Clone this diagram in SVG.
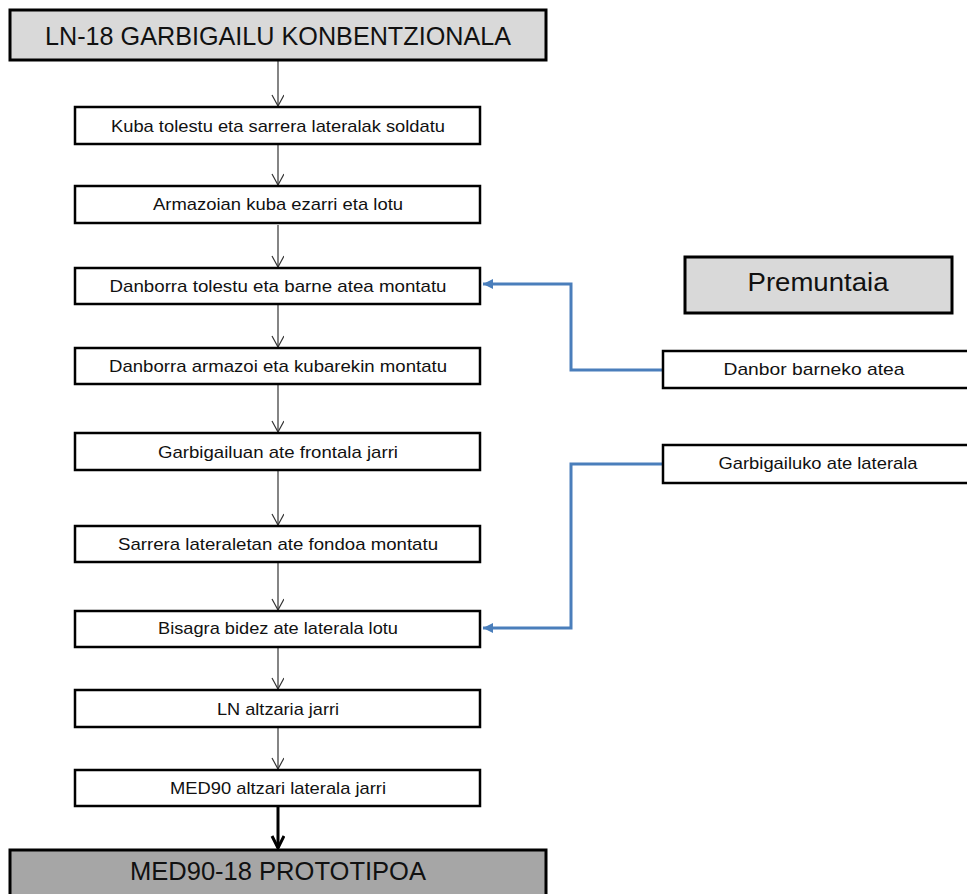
<svg xmlns="http://www.w3.org/2000/svg" width="967" height="894" viewBox="0 0 967 894">
<style>
.box{fill:#fff;stroke:#000;stroke-width:2.5}
.title{fill:#d9d9d9;stroke:#000;stroke-width:3}
.final{fill:#a6a6a6;stroke:#000;stroke-width:3}
.t{font-family:"Liberation Sans",Arial,sans-serif;font-size:17px;fill:#111;text-anchor:middle}
.big{font-family:"Liberation Sans",Arial,sans-serif;font-size:25px;fill:#111;text-anchor:middle}
.ln{stroke:#333;stroke-width:1.2;fill:none}
.blue{stroke:#4a7ebb;stroke-width:3;fill:none}
</style>
<defs>
<marker id="v" markerWidth="14" markerHeight="14" refX="12" refY="6" orient="auto" markerUnits="userSpaceOnUse">
<path d="M1,0 L12,6 L1,12" fill="none" stroke="#333" stroke-width="1.2"/>
</marker>
<marker id="vb" markerWidth="16" markerHeight="16" refX="13" refY="7" orient="auto" markerUnits="userSpaceOnUse">
<path d="M1,1 L13,7 L1,13" fill="none" stroke="#000" stroke-width="3"/>
</marker>
<marker id="bl" markerWidth="12" markerHeight="12" refX="10" refY="5" orient="auto" markerUnits="userSpaceOnUse">
<path d="M0,0 L10,5 L0,10 Z" fill="#4a7ebb"/>
</marker>
</defs>
<g id="connectors">
<line class="ln" x1="278" y1="61" x2="278" y2="106" marker-end="url(#v)"/>
<line class="ln" x1="278" y1="145" x2="278" y2="185" marker-end="url(#v)"/>
<line class="ln" x1="278" y1="225" x2="278" y2="267" marker-end="url(#v)"/>
<line class="ln" x1="278" y1="305" x2="278" y2="347" marker-end="url(#v)"/>
<line class="ln" x1="278" y1="385" x2="278" y2="432" marker-end="url(#v)"/>
<line class="ln" x1="278" y1="471" x2="278" y2="525" marker-end="url(#v)"/>
<line class="ln" x1="278" y1="563" x2="278" y2="610" marker-end="url(#v)"/>
<line class="ln" x1="278" y1="648" x2="278" y2="689" marker-end="url(#v)"/>
<line class="ln" x1="278" y1="728" x2="278" y2="769" marker-end="url(#v)"/>
<line x1="278" y1="807" x2="278" y2="848" stroke="#000" stroke-width="3" marker-end="url(#vb)"/>
<polyline class="blue" points="663,370 571,370 571,284 483,284" marker-end="url(#bl)"/>
<polyline class="blue" points="663,464 571,464 571,628 483,628" marker-end="url(#bl)"/>
</g>
<g id="n-top"><rect class="title" x="10" y="10" width="536" height="50"/><text class="big" x="278" y="45" textLength="466" lengthAdjust="spacingAndGlyphs">LN-18 GARBIGAILU KONBENTZIONALA</text></g>
<g id="n1"><rect class="box" x="75" y="107" width="405" height="37"/><text class="t" x="278" y="132" textLength="334" lengthAdjust="spacingAndGlyphs">Kuba tolestu eta sarrera lateralak soldatu</text></g>
<g id="n2"><rect class="box" x="75" y="186" width="405" height="37"/><text class="t" x="278" y="210" textLength="250" lengthAdjust="spacingAndGlyphs">Armazoian kuba ezarri eta lotu</text></g>
<g id="n3"><rect class="box" x="75" y="268" width="405" height="36"/><text class="t" x="278" y="292" textLength="337" lengthAdjust="spacingAndGlyphs">Danborra tolestu eta barne atea montatu</text></g>
<g id="n4"><rect class="box" x="75" y="348" width="405" height="36"/><text class="t" x="278" y="372" textLength="338" lengthAdjust="spacingAndGlyphs">Danborra armazoi eta kubarekin montatu</text></g>
<g id="n5"><rect class="box" x="75" y="433" width="405" height="37"/><text class="t" x="278" y="458" textLength="240" lengthAdjust="spacingAndGlyphs">Garbigailuan ate frontala jarri</text></g>
<g id="n6"><rect class="box" x="75" y="526" width="405" height="36"/><text class="t" x="278" y="550" textLength="320" lengthAdjust="spacingAndGlyphs">Sarrera lateraletan ate fondoa montatu</text></g>
<g id="n7"><rect class="box" x="75" y="611" width="405" height="36"/><text class="t" x="278" y="634" textLength="240" lengthAdjust="spacingAndGlyphs">Bisagra bidez ate laterala lotu</text></g>
<g id="n8"><rect class="box" x="75" y="690" width="405" height="37"/><text class="t" x="278" y="715" textLength="122" lengthAdjust="spacingAndGlyphs">LN altzaria jarri</text></g>
<g id="n9"><rect class="box" x="75" y="770" width="405" height="36"/><text class="t" x="278" y="794" textLength="216" lengthAdjust="spacingAndGlyphs">MED90 altzari laterala jarri</text></g>
<g id="n-final"><rect class="final" x="10" y="850" width="536" height="50"/><text class="big" x="278" y="880" textLength="296" lengthAdjust="spacingAndGlyphs">MED90-18 PROTOTIPOA</text></g>
<g id="n-premuntaia"><rect class="title" x="685" y="257" width="267" height="56"/><text class="big" x="818" y="291" font-size="27" textLength="141" lengthAdjust="spacingAndGlyphs">Premuntaia</text></g>
<g id="n-danbor"><rect class="box" x="663" y="351" width="310" height="37"/><text class="t" x="814" y="375" textLength="181" lengthAdjust="spacingAndGlyphs">Danbor barneko atea</text></g>
<g id="n-garbi"><rect class="box" x="663" y="445" width="310" height="38"/><text class="t" x="818" y="469" textLength="199" lengthAdjust="spacingAndGlyphs">Garbigailuko ate laterala</text></g>
</svg>
